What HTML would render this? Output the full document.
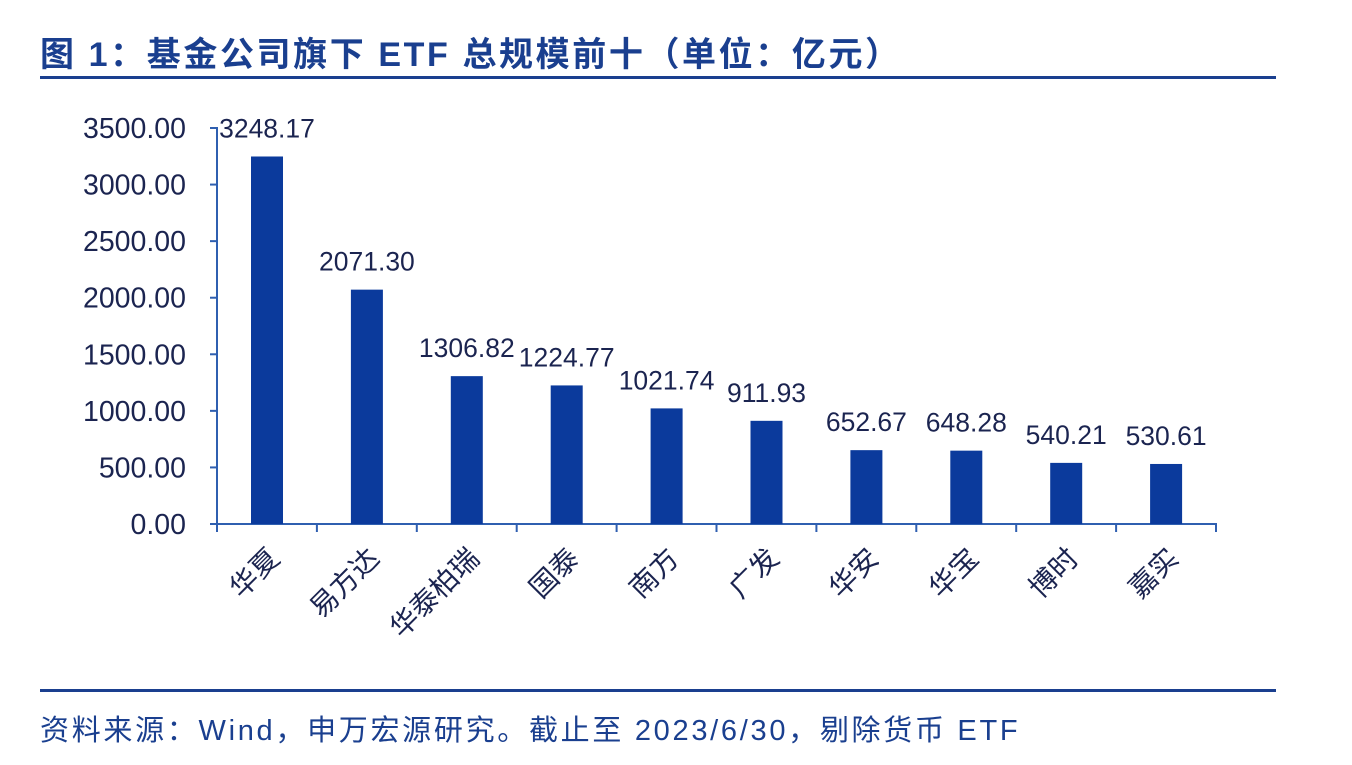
<!DOCTYPE html>
<html><head><meta charset="utf-8"><style>
body{margin:0;background:#fff;}
svg text{font-family:"Liberation Sans","Noto Sans CJK SC",sans-serif;}
</style></head><body>
<svg width="1352" height="760" xmlns="http://www.w3.org/2000/svg">
<rect width="1352" height="760" fill="#fff"/>
<text x="40" y="66" font-size="34" font-weight="bold" fill="#1a3f8f" letter-spacing="2.6">图 1：基金公司旗下 ETF 总规模前十（单位：亿元）</text>
<rect x="40" y="76" width="1236" height="3" fill="#1a3f8f"/>
<rect x="40" y="689" width="1236" height="3" fill="#1a3f8f"/>
<text x="40" y="740" font-size="29" fill="#1a3f8f" letter-spacing="2.7">资料来源：Wind，申万宏源研究。截止至 2023/6/30，剔除货币 ETF</text>
<g stroke="#2f5fb0" stroke-width="2">
<line x1="217" y1="127" x2="217" y2="525"/>
<line x1="216" y1="524" x2="1217" y2="524"/>
</g>
<g stroke="#2f5fb0" stroke-width="2" id="t"></g>
<g font-size="28.5" fill="#1b2450" text-anchor="end" id="y"></g>
<g id="bars"></g>
<script>
var ns="http://www.w3.org/2000/svg";
function el(p,t,a,txt){var e=document.createElementNS(ns,t);for(var k in a)e.setAttribute(k,a[k]);if(txt!==undefined)e.textContent=txt;p.appendChild(e);return e;}
var y0=524,sc=396/3500,tg=document.getElementById('t'),yg=document.getElementById('y'),bg=document.getElementById('bars');
for(var i=0;i<=7;i++){var yy=y0-i*500*sc;el(tg,'line',{x1:210,y1:yy,x2:217,y2:yy});el(yg,'text',{x:186,y:yy+10},(i*500).toFixed(2));}
var n=["华夏","易方达","华泰柏瑞","国泰","南方","广发","华安","华宝","博时","嘉实"];
var v=[3248.17,2071.30,1306.82,1224.77,1021.74,911.93,652.67,648.28,540.21,530.61];
for(var i=0;i<=10;i++){var xx=217+i*99.9;el(tg,'line',{x1:xx,y1:524,x2:xx,y2:532});}
for(var i=0;i<10;i++){var c=267+i*99.9,h=v[i]*sc;
el(bg,'rect',{x:c-16,y:y0-h,width:32,height:h,fill:"#0b3a9c"});
el(bg,'text',{x:c,y:y0-h-19,'font-size':26.5,fill:'#1b2450','text-anchor':'middle'},v[i].toFixed(2));
el(bg,'text',{x:0,y:0,'font-size':28,fill:'#1b2450','text-anchor':'end',transform:'translate('+(c+14)+',560) rotate(-45)'},n[i]);}
</script>
</svg>
</body></html>
